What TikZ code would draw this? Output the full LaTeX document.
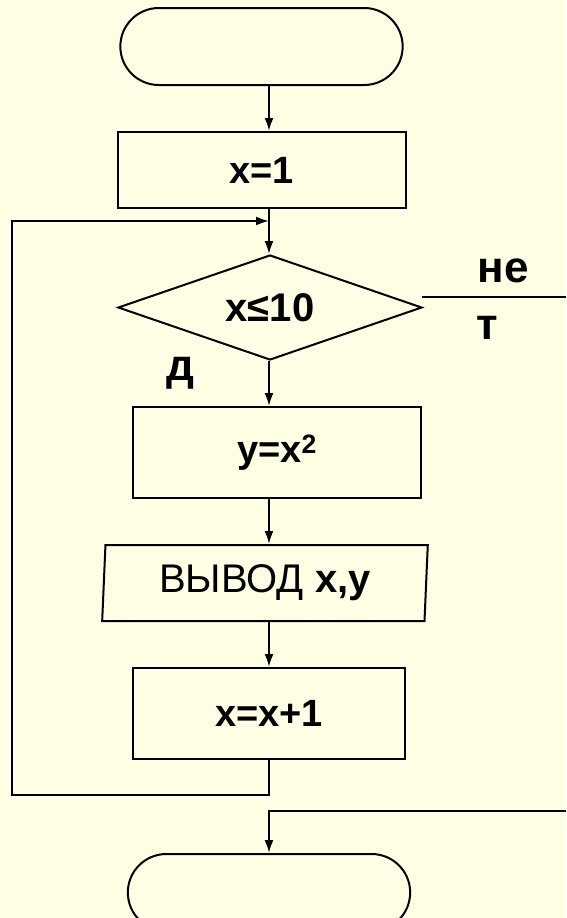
\documentclass[tikz,border=0pt]{standalone}
\usepackage{fontspec}
\setmainfont{Liberation Sans}
\usetikzlibrary{shapes,arrows.meta,positioning}
\definecolor{paper}{RGB}{255,255,230}
\tikzstyle{term}     = [rounded rectangle, draw, minimum width=289pt, minimum height=77pt]
\tikzstyle{block}    = [rectangle, draw, minimum width=288pt, minimum height=76pt, font=\fontsize{38}{44}\selectfont\bfseries]
\tikzstyle{decision} = [diamond, draw, aspect=2.9, inner sep=0pt, minimum width=304pt, minimum height=105pt, font=\fontsize{40}{46}\selectfont\bfseries]
\tikzstyle{io}       = [trapezium, draw, trapezium left angle=87, trapezium right angle=93, trapezium stretches=true, minimum width=326pt, minimum height=76pt, font=\fontsize{40}{46}\selectfont]
\tikzstyle{answer}   = [inner sep=0pt, font=\fontsize{44}{50}\selectfont\bfseries]
\tikzstyle{line}     = [draw, -{Latex[length=13pt,width=9pt]}]

\begin{document}
\begin{tikzpicture}[node distance = 45pt, line width=2pt]
        \fill [paper] (0,0) rectangle (566pt,-918pt);
        \useasboundingbox (0,0) rectangle (566pt,-918pt);

        \node [term] (start) at (261.5pt,-46.5pt) {};
        \node [block, below=of start] (init) {x=1};
        \node [decision, below=45pt of init, xshift=8.5pt] (test) {x≤10};
        \node [block, below=of test, xshift=7pt, minimum height=91pt] (calc) {y=x\textsuperscript{2}};
        \node [io, below=of calc, xshift=-12pt] (print) {ВЫВОД \textbf{x,y}};
        \node [block, below=of print, xshift=4pt, minimum width=272pt, minimum height=91pt] (incr) {x=x+1};
        \node [term, below=93pt of incr] (stop) {};

        \node [answer] (no1) at (503pt,-271pt) {не};
        \node [answer] (no2) at (487.5pt,-328pt) {т};
        \node [answer] (yes) at (180pt,-373pt) {д};

        \coordinate (col) at (269pt,0);
        \coordinate (entry) at (269pt,-221pt);
        \coordinate (corner) at (12pt,-795pt);
        \coordinate (noout) at (566pt,-297pt);
        \coordinate (noin) at (566pt,-811pt);

        \path [line] (start.south -| col) -- (init.north -| col);
        \path [line] (init.south -| col) -- (test.north -| col);
        \path [line] (test.south -| col) -- (calc.north -| col);
        \path [line] (calc.south -| col) -- (print.north -| col);
        \path [line] (print.south -| col) -- (incr.north -| col);
        \path [line] (incr.south -| col) |- (corner) |- (entry);
        \draw ([xshift=-1pt]test.east |- noout) -- (noout);
        \path [line] (noin) -| (stop.north -| col);
      \end{tikzpicture}
\end{document}
